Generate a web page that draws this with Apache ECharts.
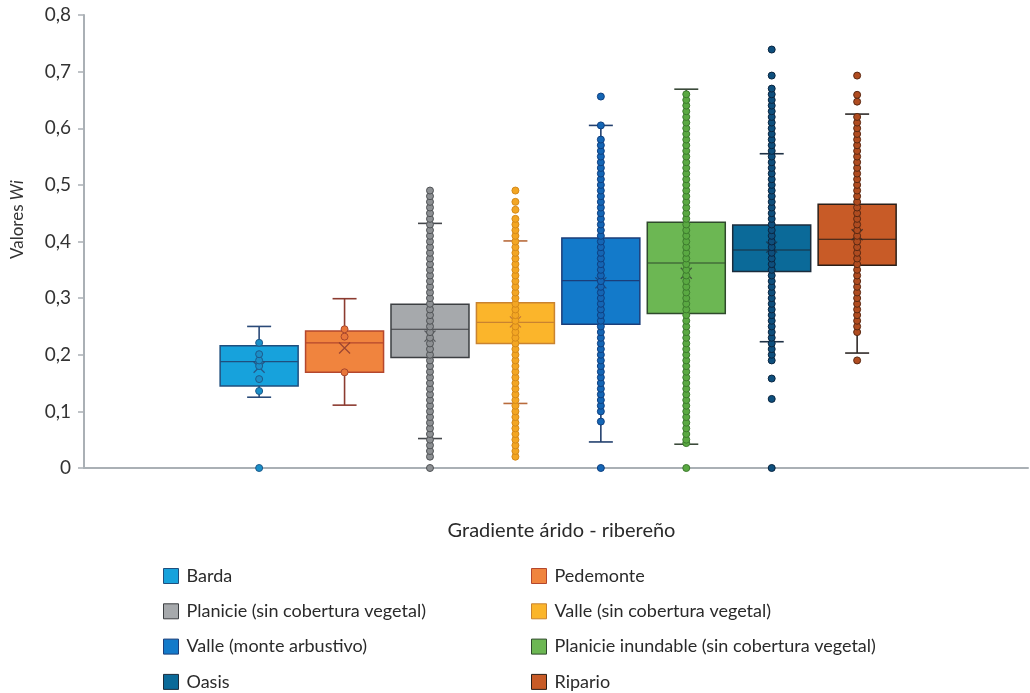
<!DOCTYPE html>
<html>
<head>
<meta charset="utf-8">
<script src="https://cdn.jsdelivr.net/npm/echarts@6/dist/echarts.min.js"></script>
<style>
  html, body { margin: 0; padding: 0; background: #ffffff; }
  #chart { width: 1030px; height: 693px; }
</style>
</head>
<body>
<div id="chart"></div>
<script>
// Unidades del gradiente árido - ribereño
const categories = [
  'Barda',
  'Pedemonte',
  'Planicie (sin cobertura vegetal)',
  'Valle (sin cobertura vegetal)',
  'Valle (monte arbustivo)',
  'Planicie inundable (sin cobertura vegetal)',
  'Oasis',
  'Ripario'
];

// Estadísticos de cada caja (valores Wi)
const whiskerLow  = [0.125, 0.111, 0.052, 0.114, 0.046, 0.042, 0.223, 0.203];
const q1          = [0.145, 0.169, 0.195, 0.220, 0.254, 0.273, 0.347, 0.358];
const median      = [0.188, 0.221, 0.245, 0.257, 0.331, 0.362, 0.385, 0.404];
const q3          = [0.216, 0.242, 0.289, 0.292, 0.406, 0.434, 0.429, 0.466];
const whiskerHigh = [0.250, 0.299, 0.432, 0.401, 0.605, 0.669, 0.555, 0.625];
const means       = [0.178, 0.212, 0.233, 0.258, 0.327, 0.344, 0.390, 0.412];

// Valores individuales por unidad
const ptsBarda = [0, 0.136, 0.157, 0.180, 0.190, 0.201, 0.221];
const ptsPedemonte = [0.169, 0.232, 0.245];
const ptsPlanicie = [0, 0.02, 0.03, 0.04, 0.05, 0.06, 0.07, 0.08, 0.09, 0.10, 0.11, 0.12,
  0.13, 0.14, 0.15, 0.16, 0.17, 0.18, 0.19, 0.20, 0.21, 0.22, 0.23, 0.24, 0.25, 0.26,
  0.27, 0.28, 0.29, 0.30, 0.31, 0.32, 0.33, 0.34, 0.35, 0.36, 0.37, 0.38, 0.39, 0.40,
  0.41, 0.42, 0.43, 0.44, 0.45, 0.46, 0.47, 0.48, 0.49];
const ptsValleSin = [0.02, 0.03, 0.04, 0.05, 0.06, 0.07, 0.08, 0.09, 0.10, 0.11, 0.12,
  0.13, 0.14, 0.15, 0.16, 0.17, 0.18, 0.19, 0.20, 0.21, 0.22, 0.23, 0.24, 0.25, 0.26,
  0.27, 0.28, 0.29, 0.30, 0.31, 0.32, 0.33, 0.34, 0.35, 0.36, 0.37, 0.38, 0.39, 0.40,
  0.41, 0.42, 0.43, 0.44, 0.456, 0.47, 0.49];
const ptsValleMonte = [0, 0.082, 0.10, 0.11, 0.12, 0.13, 0.14, 0.15, 0.16, 0.17, 0.18,
  0.19, 0.20, 0.21, 0.22, 0.23, 0.24, 0.25, 0.26, 0.27, 0.28, 0.29, 0.30, 0.31, 0.32,
  0.33, 0.34, 0.35, 0.36, 0.37, 0.38, 0.39, 0.40, 0.41, 0.42, 0.43, 0.44, 0.45, 0.46,
  0.47, 0.48, 0.49, 0.50, 0.51, 0.52, 0.53, 0.54, 0.55, 0.56, 0.57, 0.58, 0.605, 0.656];
const ptsPlanicieInund = [0, 0.044, 0.05, 0.06, 0.07, 0.08, 0.09, 0.10, 0.11, 0.12, 0.13,
  0.14, 0.15, 0.16, 0.17, 0.18, 0.19, 0.20, 0.21, 0.22, 0.23, 0.24, 0.25, 0.26, 0.27,
  0.28, 0.29, 0.30, 0.31, 0.32, 0.33, 0.34, 0.35, 0.36, 0.37, 0.38, 0.39, 0.40, 0.41,
  0.42, 0.43, 0.44, 0.45, 0.46, 0.47, 0.48, 0.49, 0.50, 0.51, 0.52, 0.53, 0.54, 0.55,
  0.56, 0.57, 0.58, 0.59, 0.60, 0.61, 0.62, 0.63, 0.64, 0.65, 0.66];
const ptsOasis = [0, 0.122, 0.158, 0.19, 0.20, 0.21, 0.22, 0.23, 0.24, 0.25, 0.26, 0.27,
  0.28, 0.29, 0.30, 0.31, 0.32, 0.33, 0.34, 0.35, 0.36, 0.37, 0.38, 0.39, 0.40, 0.41,
  0.42, 0.43, 0.44, 0.45, 0.46, 0.47, 0.48, 0.49, 0.50, 0.51, 0.52, 0.53, 0.54, 0.55,
  0.56, 0.57, 0.58, 0.59, 0.60, 0.61, 0.62, 0.63, 0.64, 0.65, 0.66, 0.67, 0.693, 0.739];
const ptsRipario = [0.19, 0.24, 0.25, 0.26, 0.27, 0.28, 0.29, 0.30, 0.31, 0.32, 0.33,
  0.34, 0.35, 0.36, 0.37, 0.38, 0.39, 0.40, 0.41, 0.42, 0.43, 0.44, 0.45, 0.46, 0.47,
  0.48, 0.49, 0.50, 0.51, 0.52, 0.53, 0.54, 0.55, 0.56, 0.57, 0.58, 0.59, 0.60, 0.61,
  0.62, 0.647, 0.659, 0.693];
const points = [ptsBarda, ptsPedemonte, ptsPlanicie, ptsValleSin, ptsValleMonte,
  ptsPlanicieInund, ptsOasis, ptsRipario];

// Etiquetas del eje Y
const yTickLabels = ['0', '0,1', '0,2', '0,3', '0,4', '0,5', '0,6', '0,7', '0,8'];

// Paleta
const boxFill   = ['#17a2dc', '#f0843e', '#a6a9ac', '#fbb52b', '#137aca', '#6cb753', '#0b6a99', '#c85b27'];
const boxLine   = ['#1f4f7e', '#b4472d', '#3c3f42', '#c98330', '#1b3e7a', '#2f4a2c', '#1b2c3c', '#2b1f18'];
const whiskCol  = ['#2a4a78', '#8c3b30', '#45484c', '#b86b3c', '#23406e', '#3b4a3a', '#1f3145', '#2f2a28'];
const dotFill   = ['#1a8fc8', '#e8763a', '#8d9093', '#f3a623', '#1466b5', '#5aa942', '#0e4f7d', '#b04c20'];
const dotLine   = ['#1e5a8a', '#a8472d', '#4f5255', '#d4891a', '#0f3f80', '#3d7a2e', '#0a2540', '#5a2812'];

const FONT = 'Lato';

function boxRenderer(i) {
  return function (params, api) {
    const x = api.value(0);
    const lo = api.coord([x, api.value(1)]);
    const b = api.coord([x, api.value(2)]);
    const m = api.coord([x, api.value(3)]);
    const t = api.coord([x, api.value(4)]);
    const hi = api.coord([x, api.value(5)]);
    const cx = lo[0];
    const hw = 39, cw = 12;
    const ws = { stroke: whiskCol[i], lineWidth: 1.6 };
    return {
      type: 'group',
      children: [
        { type: 'line', shape: { x1: cx, y1: lo[1], x2: cx, y2: b[1] }, style: ws },
        { type: 'line', shape: { x1: cx, y1: t[1], x2: cx, y2: hi[1] }, style: ws },
        { type: 'line', shape: { x1: cx - cw, y1: lo[1], x2: cx + cw, y2: lo[1] }, style: ws },
        { type: 'line', shape: { x1: cx - cw, y1: hi[1], x2: cx + cw, y2: hi[1] }, style: ws },
        { type: 'rect', shape: { x: cx - hw, y: t[1], width: 2 * hw, height: b[1] - t[1] },
          style: { fill: boxFill[i], stroke: boxLine[i], lineWidth: 1.5 } },
        { type: 'line', shape: { x1: cx - hw, y1: m[1], x2: cx + hw, y2: m[1] },
          style: { stroke: boxLine[i], lineWidth: 1.2 } }
      ]
    };
  };
}

const series = [];
categories.forEach(function (name, i) {
  series.push({
    type: 'custom',
    name: name,
    renderItem: boxRenderer(i),
    data: [[i, whiskerLow[i], q1[i], median[i], q3[i], whiskerHigh[i]]],
    encode: { x: 0, y: [1, 2, 3, 4, 5] },
    itemStyle: { color: boxFill[i], borderColor: boxLine[i] },
    clip: false,
    silent: true,
    z: 2
  });
  series.push({
    type: 'scatter',
    name: name + ' · valores',
    data: points[i].map(function (v) { return [i, v]; }),
    symbol: 'circle',
    symbolSize: 7,
    itemStyle: { color: dotFill[i], borderColor: dotLine[i], borderWidth: 1, opacity: 1 },
    silent: true,
    z: 4
  });
});

// Marcas de la media (X), por debajo de los puntos
series.push({
  type: 'scatter',
  name: 'media',
  data: means.map(function (v, i) {
    return { value: [i, v], itemStyle: { borderColor: whiskCol[i] } };
  }),
  symbol: 'path://M0 0L10 10M10 0L0 10',
  symbolSize: 11,
  itemStyle: { color: 'rgba(0,0,0,0)', borderWidth: 1.2, opacity: 0.85 },
  silent: true,
  z: 3
});

function legendItems(idx) {
  return idx.map(function (i) {
    return { name: categories[i], itemStyle: { color: boxFill[i], borderColor: boxLine[i], borderWidth: 1 } };
  });
}

const legendBase = {
  orient: 'vertical',
  icon: 'rect',
  itemWidth: 15,
  itemHeight: 15,
  itemGap: 17.3,
  padding: 0,
  height: 140,
  selectedMode: false,
  textStyle: { fontFamily: FONT, fontSize: 18, color: '#2a2a2a', lineHeight: 15, padding: [0, 0, 0, 3] }
};

const option = {
  animation: false,
  backgroundColor: '#ffffff',
  grid: { left: 84, right: 2, top: 15, bottom: 225, containLabel: false },
  xAxis: {
    type: 'value',
    min: -2.05,
    max: 9.0,
    axisLine: { show: true, onZero: false, lineStyle: { color: '#aab0b5', width: 2 } },
    axisTick: { show: false },
    axisLabel: { show: false },
    splitLine: { show: false },
    name: 'Gradiente árido - ribereño',
    nameLocation: 'middle',
    nameGap: 53,
    nameTextStyle: { fontFamily: FONT, fontSize: 20, color: '#2a2a2a', padding: [0, 0, 0, 11] }
  },
  yAxis: {
    type: 'value',
    min: 0,
    max: 0.8,
    interval: 0.1,
    axisLine: { show: true, onZero: false, lineStyle: { color: '#aab0b5', width: 2 } },
    axisTick: { show: true, inside: false, length: 6, lineStyle: { color: '#aab0b5', width: 1.5 } },
    axisLabel: {
      margin: 13,
      fontFamily: FONT,
      fontSize: 19,
      color: '#333333',
      formatter: function (v) { return yTickLabels[Math.round(v * 10)]; }
    },
    splitLine: { show: false },
    name: '{a|Valores }{b|Wi}',
    nameLocation: 'middle',
    nameGap: 58,
    nameRotate: 90,
    nameTextStyle: {
      padding: [0, 0, 0, 44],
      rich: {
        a: { fontFamily: FONT, fontSize: 17, color: '#333333' },
        b: { fontFamily: FONT, fontSize: 17, color: '#333333', fontStyle: 'italic' }
      }
    }
  },
  legend: [
    Object.assign({}, legendBase, { left: 163, top: 567, data: legendItems([0, 2, 4, 6]) }),
    Object.assign({}, legendBase, { left: 531, top: 567, data: legendItems([1, 3, 5, 7]) })
  ],
  series: series
};

const chart = echarts.init(document.getElementById('chart'), null, { renderer: 'canvas' });
chart.setOption(option);
</script>
</body>
</html>
